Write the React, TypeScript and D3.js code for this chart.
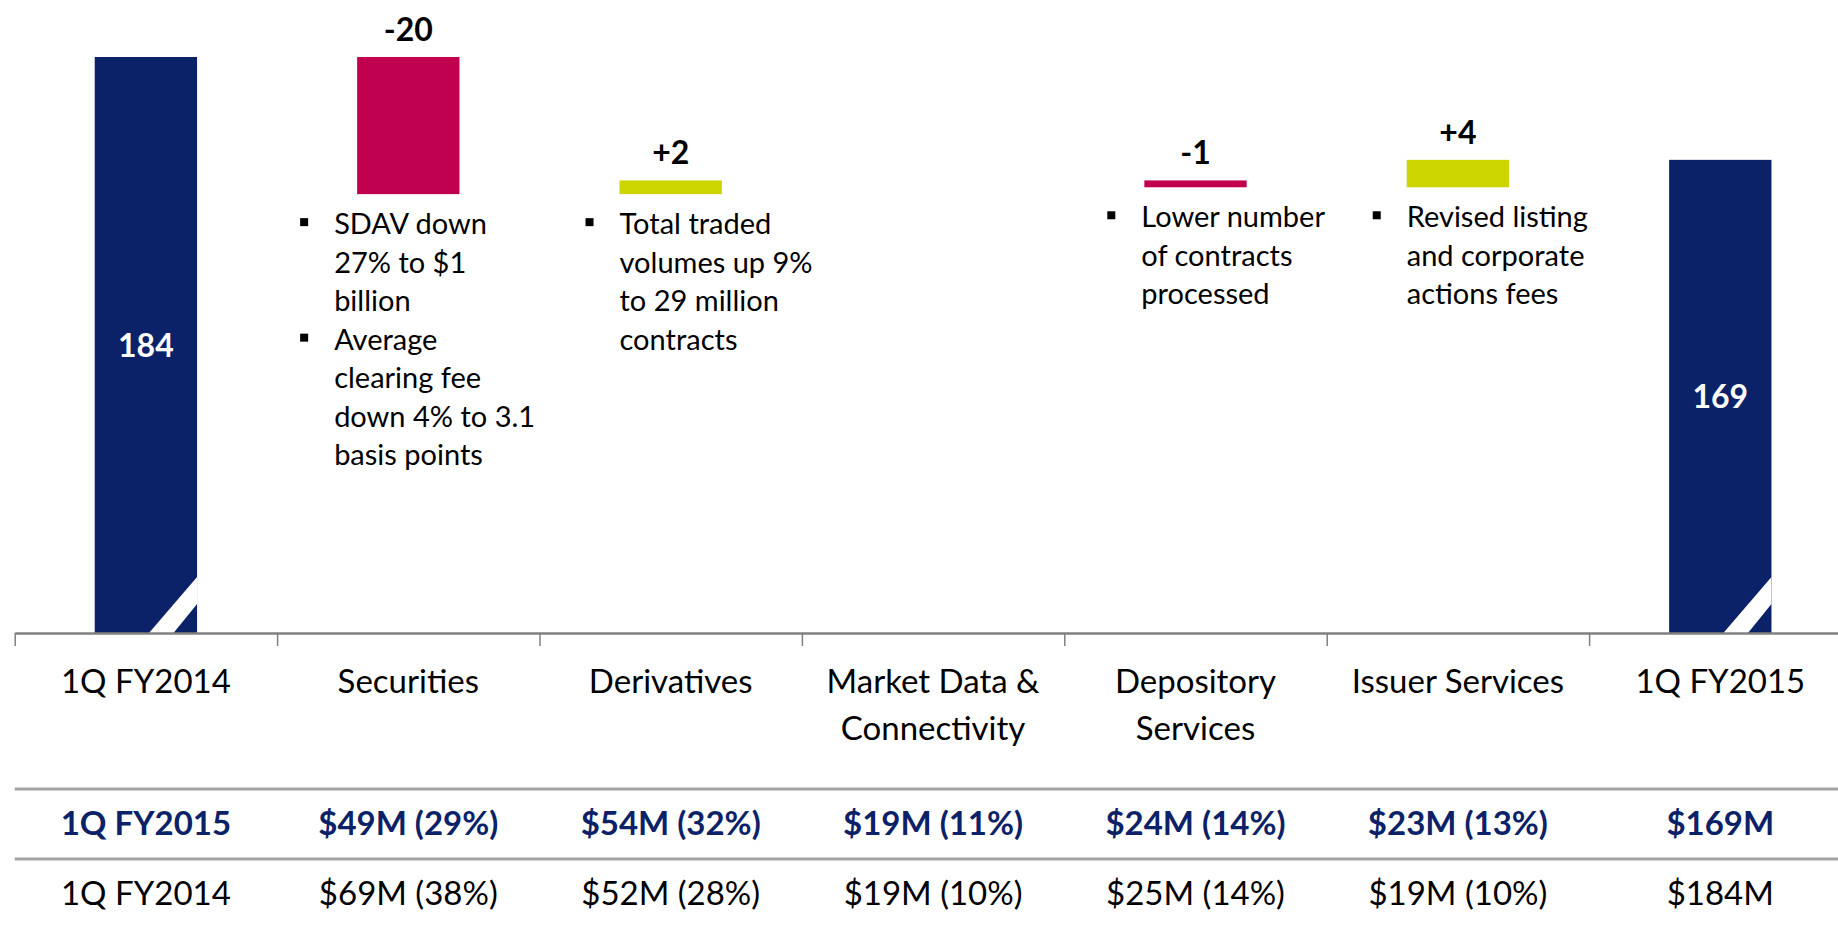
import React, { useEffect, useRef } from 'react'
import * as d3 from 'd3'

const categories = ['1Q FY2014', 'Securities', 'Derivatives', 'Market Data & Connectivity', 'Depository Services', 'Issuer Services', '1Q FY2015']
const categoryLines = [['1Q FY2014'], ['Securities'], ['Derivatives'], ['Market Data &', 'Connectivity'], ['Depository', 'Services'], ['Issuer Services'], ['1Q FY2015']]

const startValue = 184
const endValue = 169
const changes = [-20, 2, 0, -1, 4]
const changeLabels = ['-20', '+2', '', '-1', '+4']

const securitiesNotes = [['SDAV down', '27% to $1', 'billion'], ['Average', 'clearing fee', 'down 4% to 3.1', 'basis points']]
const derivativesNotes = [['Total traded', 'volumes up 9%', 'to 29 million', 'contracts']]
const depositoryNotes = [['Lower number', 'of contracts', 'processed']]
const issuerNotes = [['Revised listing', 'and corporate', 'actions fees']]

const rowLabels = ['1Q FY2015', '1Q FY2014']
const revenue2015 = ['$49M (29%)', '$54M (32%)', '$19M (11%)', '$24M (14%)', '$23M (13%)', '$169M']
const revenue2014 = ['$69M (38%)', '$52M (28%)', '$19M (10%)', '$25M (14%)', '$19M (10%)', '$184M']

const NAVY = '#0c2268'
const PINK = '#c0004f'
const LIME = '#ccd500'

export default function App () {
  const ref = useRef<SVGSVGElement>(null)

  useEffect(() => {
    const svg = d3.select(ref.current)
    svg.selectAll('*').remove()

    const axisY = 633
    const x = d3.scaleBand<string>()
      .domain(categories)
      .range([14.7, 1851.5])
      .paddingInner(0.61)
      .paddingOuter(0.305)
    const bw = x.bandwidth()
    const cx = (c: string) => (x(c) as number) + bw / 2

    const y = d3.scaleLinear().domain([100, 184]).range([axisY, 57])
    const yMin = y.domain()[0]

    // waterfall pieces
    const bars: { cat: string, lo: number, hi: number, color: string, total: boolean, label: string }[] = []
    bars.push({ cat: categories[0], lo: yMin, hi: startValue, color: NAVY, total: true, label: String(startValue) })
    let running = startValue
    changes.forEach((c, i) => {
      const next = running + c
      if (c !== 0) {
        bars.push({
          cat: categories[i + 1],
          lo: Math.min(running, next),
          hi: Math.max(running, next),
          color: c < 0 ? PINK : LIME,
          total: false,
          label: changeLabels[i]
        })
      }
      running = next
    })
    bars.push({ cat: categories[6], lo: yMin, hi: endValue, color: NAVY, total: true, label: String(endValue) })

    const g = svg.append('g').style('font-family', 'Lato, "Open Sans", sans-serif')

    g.selectAll('.bar')
      .data(bars)
      .enter()
      .append('rect')
      .attr('x', d => x(d.cat) as number)
      .attr('y', d => y(d.hi))
      .attr('width', bw)
      .attr('height', d => y(d.lo) - y(d.hi))
      .attr('fill', d => d.color)

    // broken-axis slash on the totals
    g.selectAll('.slash')
      .data(bars.filter(d => d.total))
      .enter()
      .append('polygon')
      .attr('fill', '#fff')
      .attr('points', d => {
        const x0 = x(d.cat) as number
        const x1 = x0 + bw
        return [[x0 + bw * 0.53, axisY], [x0 + bw * 0.77, axisY], [x1, axisY - 29], [x1, axisY - 56]].map(p => p.join(',')).join(' ')
      })

    // totals labels inside bars
    g.selectAll('.total-label')
      .data(bars.filter(d => d.total))
      .enter()
      .append('text')
      .attr('x', d => cx(d.cat))
      .attr('y', d => (y(d.hi) + y(d.lo)) / 2 + 12)
      .attr('text-anchor', 'middle')
      .attr('fill', '#fff')
      .style('font-weight', 700)
      .style('font-size', '32px')
      .text(d => d.label)

    // change labels above the floating bars
    g.selectAll('.change-label')
      .data(bars.filter(d => !d.total))
      .enter()
      .append('text')
      .attr('x', d => cx(d.cat))
      .attr('y', d => y(d.hi) - 16)
      .attr('text-anchor', 'middle')
      .attr('fill', '#000')
      .style('font-weight', 700)
      .style('font-size', '32px')
      .text(d => d.label)

    // bullet notes
    const noteGroups = [
      { cat: 'Securities', lo: startValue + changes[0], notes: securitiesNotes, shift: -23 },
      { cat: 'Derivatives', lo: startValue + changes[0], notes: derivativesNotes, shift: 0 },
      { cat: 'Depository Services', lo: 165, notes: depositoryNotes, shift: -3 },
      { cat: 'Issuer Services', lo: 165, notes: issuerNotes, shift: 0 }
    ]
    const pitch = 38.5
    noteGroups.forEach(grp => {
      const tx = (x(grp.cat) as number) + grp.shift
      let base = y(grp.lo) + 40
      grp.notes.forEach(lines => {
        g.append('rect')
          .attr('x', tx - 34)
          .attr('y', base - 16)
          .attr('width', 8)
          .attr('height', 8)
          .attr('fill', '#000')
        lines.forEach((line, i) => {
          g.append('text')
            .attr('x', tx)
            .attr('y', base + i * pitch)
            .style('font-size', '29px')
            .attr('fill', '#000')
            .text(line)
        })
        base += lines.length * pitch
      })
    })

    // category axis with ticks at band boundaries
    const bounds = d3.scaleLinear().domain([0, categories.length]).range(x.range())
    const axis = g.append('g')
      .attr('transform', `translate(0, ${axisY})`)
      .call(d3.axisBottom(bounds).tickValues(d3.range(0, categories.length + 1)).tickFormat(() => '').tickSize(13).tickSizeOuter(0))
    axis.select('.domain').attr('stroke', '#808080').attr('stroke-width', 2.5)
    axis.selectAll('.tick line').attr('stroke', '#808080').attr('stroke-width', 1.5)

    categoryLines.forEach((lines, i) => {
      lines.forEach((line, j) => {
        g.append('text')
          .attr('x', cx(categories[i]))
          .attr('y', 693 + j * 47)
          .attr('text-anchor', 'middle')
          .style('font-size', '33px')
          .attr('fill', '#000')
          .text(line)
      })
    })

    // revenue table
    ;[789, 859].forEach(ly => {
      g.append('line')
        .attr('x1', 14.7).attr('x2', 1838)
        .attr('y1', ly).attr('y2', ly)
        .attr('stroke', '#a3a3a3')
        .attr('stroke-width', 3)
    })

    const rows = [
      { label: rowLabels[0], values: revenue2015, y: 835, bold: true, color: NAVY },
      { label: rowLabels[1], values: revenue2014, y: 905, bold: false, color: '#000' }
    ]
    rows.forEach(r => {
      ;[r.label, ...r.values].forEach((t, i) => {
        g.append('text')
          .attr('x', cx(categories[i]))
          .attr('y', r.y)
          .attr('text-anchor', 'middle')
          .style('font-size', '33px')
          .style('font-weight', r.bold ? 700 : 400)
          .attr('fill', r.color)
          .text(t)
      })
    })
  }, [])

  return (
    <svg ref={ref} width={1838} height={925} style={{ position: 'absolute', left: 0, top: 0, background: '#fff' }} />
  )
}
